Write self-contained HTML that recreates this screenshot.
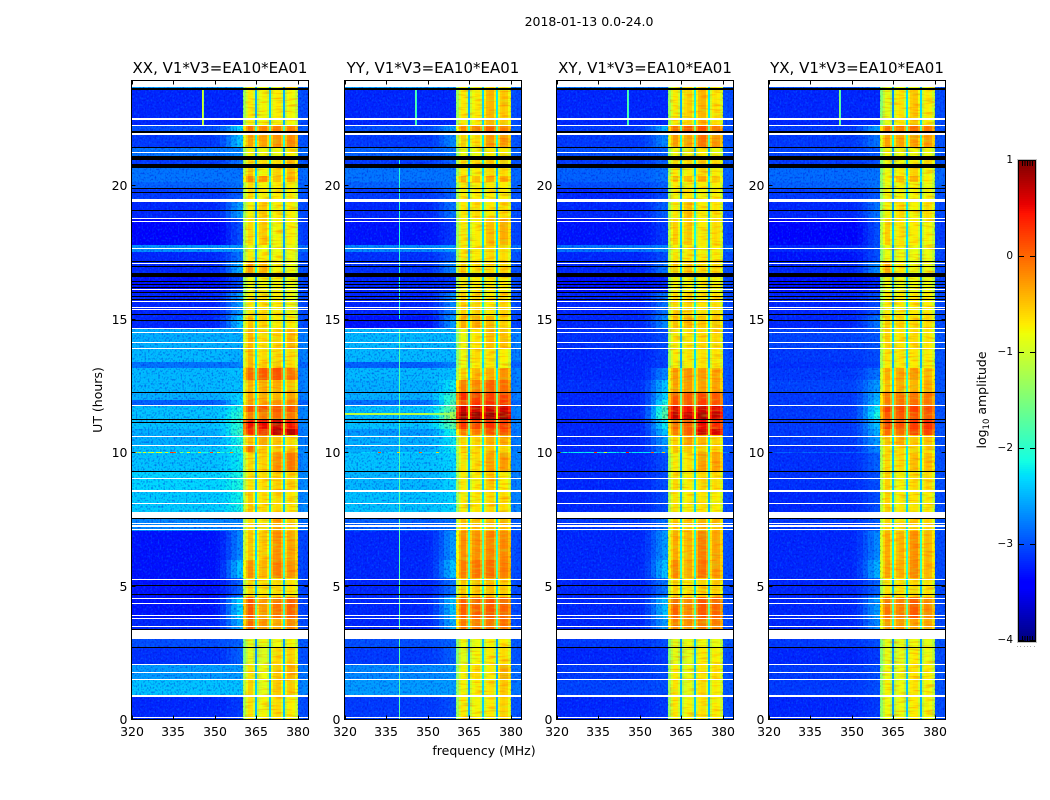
<!DOCTYPE html>
<html>
<head>
<meta charset="utf-8">
<title>2018-01-13 dynamic spectra</title>
<style>
html,body{margin:0;padding:0;background:#fff;width:1050px;height:800px;overflow:hidden}
svg{display:block}
text{font-family:"DejaVu Sans","Liberation Sans",sans-serif;fill:#000}
</style>
</head>
<body>
<svg id="figure" xmlns="http://www.w3.org/2000/svg" width="1050" height="800" viewBox="0 0 1050 800">
<defs>
<filter id="speckle-light" x="0" y="0" width="1" height="1" color-interpolation-filters="sRGB">
<feTurbulence type="fractalNoise" baseFrequency="0.55 0.45" numOctaves="1" seed="4"/>
<feColorMatrix type="matrix" values="0 0 0 0 0  0 0 0 0 0.62  0 0 0 0 1  3.4 0 0 0 -1.65"/>
</filter>
<filter id="speckle-dark" x="0" y="0" width="1" height="1" color-interpolation-filters="sRGB">
<feTurbulence type="fractalNoise" baseFrequency="0.58 0.48" numOctaves="1" seed="11"/>
<feColorMatrix type="matrix" values="0 0 0 0 0  0 0 0 0 0.5  0 0 0 0 0.9  3.4 0 0 0 -1.65"/>
</filter>
<filter id="stripe-warm" x="0" y="0" width="1" height="1" color-interpolation-filters="sRGB">
<feTurbulence type="fractalNoise" baseFrequency="0.08 0.55" numOctaves="1" seed="7"/>
<feColorMatrix type="matrix" values="0 0 0 0 1  0 0 0 0 0.3  0 0 0 0 0  3.4 0 0 0 -1.65"/>
</filter>
<filter id="stripe-cool" x="0" y="0" width="1" height="1" color-interpolation-filters="sRGB">
<feTurbulence type="fractalNoise" baseFrequency="0.1 0.5" numOctaves="1" seed="19"/>
<feColorMatrix type="matrix" values="0 0 0 0 0.65  0 0 0 0 1  0 0 0 0 0.15  3.4 0 0 0 -1.65"/>
</filter>
</defs>
<text x="589" y="26" font-size="12.5" text-anchor="middle">2018-01-13 0.0-24.0</text>
<text x="484" y="755" font-size="12.5" text-anchor="middle">frequency (MHz)</text>
<text x="102" y="400" font-size="12.5" text-anchor="middle" transform="rotate(-90 102 400)">UT (hours)</text>
<text x="986" y="400" font-size="12.5" text-anchor="middle" transform="rotate(-90 986 400)">log<tspan font-size="8.5" dy="3">10</tspan><tspan dy="-3"> amplitude</tspan></text>
</svg>
<script>
const panelTitles = ["XX, V1*V3=EA10*EA01","YY, V1*V3=EA10*EA01","XY, V1*V3=EA10*EA01","YX, V1*V3=EA10*EA01"];
const xTickLabels = [320,335,350,365,380];
const yTickLabels = [0,5,10,15,20];
const colorbarTicks = [1,0,-1,-2,-3,-4];

/* UT hours bounding each time block, top to bottom */
const bandEdgesUT = [23.91,23.61,22.26,22.00,21.40,20.95,20.65,20.35,20.13,19.90,19.49,18.74,17.77,17.50,17.13,16.72,16.00,15.10,14.62,13.90,13.38,13.16,12.71,12.26,11.96,11.77,11.51,11.24,10.87,10.64,10.27,10.01,9.97,9.26,8.58,7.76,7.05,5.96,5.28,4.57,3.79,3.34,2.66,2.06,1.46,0.86,0];

/* log10 amplitude per block: [background, roll-off, sub-band 1, 2, 3, 4] */
const levelsXX = [
[-2.4,-2.4,-.7,-.8,-.8,-.6],[-3.0,-3.0,-.7,-.75,-.7,-.75],[-2.8,-2.1,-.05,-.15,-.1,-.1],[-2.9,-2.2,-.3,-.3,-.2,-.15],
[-2.6,-2.5,-.75,-.8,-.8,-.7],[-2.9,-2.6,-.6,-.6,-.6,-.4],[-2.6,-2.6,-.5,-.75,-.55,-.45],[-2.6,-2.6,-.15,-.25,-.45,-.35],
[-2.7,-2.6,-.6,-.75,-.7,-.7],[-2.9,-2.7,-.6,-.7,-.7,-.7],[-3.0,-2.4,-.75,-.5,-.7,-.7],[-3.2,-2.8,-.6,-.5,-.75,-.7],
[-2.45,-2.4,-.8,-.8,-.8,-.8],[-3.0,-2.6,-.7,-.7,-.75,-.8],[-3.0,-2.3,-.25,-.4,-.75,-.8],[-3.1,-2.8,-.8,-.75,-.75,-.8],
[-3.0,-2.4,-.7,-.6,-.7,-.8],[-3.0,-2.2,-.45,-.55,-.7,-.7],[-2.3,-2.3,-.4,-.6,-.55,-.4],[-2.25,-2.3,-.4,-.6,-.6,-.6],
[-2.6,-2.5,-.4,-.5,-.5,-.6],[-2.25,-2.2,0,.1,.15,-.05],[-2.25,-2.2,-.4,-.35,-.35,-.45],[-2.3,-2.1,-.3,-.35,-.4,-.3],
[-2.7,-2.1,-.25,-.3,-.2,-.15],[-2.2,-1.9,.15,.15,.1,.15],[-2.2,-1.8,-.1,-.1,0,-.05],[-2.2,-1.8,.5,.55,.7,.5],
[-2.3,-1.7,.35,.35,.8,.8],[-2.3,-1.9,-.45,-.3,-.45,-.6],[-2.2,-1.9,0,-.5,-.5,-.5],[-1.9,-1.8,-.4,-.4,-.3,-.3],
[-2.2,-2.0,-.6,-.55,-.2,-.05],[-2.1,-1.9,-.65,-.6,-.55,-.55],[-2.15,-1.95,-.5,-.6,-.6,-.65],[-2.5,-2.5,-.6,-.65,-.3,-.5],
[-3.1,-2.5,-.5,-.5,-.2,-.3],[-3.1,-2.2,-.2,-.4,-.1,-.2],[-3.1,-2.7,-.6,-.65,-.6,-.65],[-3.1,-2.1,.1,-.25,-.05,.05],
[-3.0,-2.3,0,-.2,-.35,-.15],[-2.8,-2.7,-.85,-.8,-.8,-.75],[-2.95,-2.7,-.85,-.9,-.6,-.55],[-2.4,-2.4,-.65,-.8,-.5,-.35],
[-2.2,-2.2,-.55,-.85,-.5,-.5],[-3.0,-2.9,-.65,-.75,-.6,-.7]];
const levelsYY = [
[-2.4,-2.4,-.7,-.8,-.6,-.6],[-3.0,-3.0,-.7,-.7,-.4,-.5],[-2.8,-2.4,-.2,-.1,.05,-.1],[-2.9,-2.5,-.55,-.6,-.25,-.25],
[-2.7,-2.6,-.8,-.8,-.7,-.7],[-2.9,-2.7,-.6,-.6,-.5,-.5],[-2.6,-2.6,-.7,-.7,-.6,-.6],[-2.6,-2.6,-.35,-.45,-.35,-.35],
[-2.7,-2.6,-.7,-.7,-.7,-.7],[-2.9,-2.7,-.7,-.7,-.7,-.7],[-3.0,-2.6,-.7,-.6,-.7,-.6],[-3.1,-2.9,-.7,-.7,-.45,-.35],
[-2.5,-2.4,-.7,-.7,-.6,-.6],[-2.95,-2.7,-.7,-.7,-.6,-.6],[-2.95,-2.5,-.5,-.6,-.6,-.55],[-3.0,-2.9,-.7,-.7,-.7,-.7],
[-3.0,-2.5,-.55,-.55,-.7,-.55],[-3.1,-2.4,-.35,-.35,-.4,-.55],[-2.25,-2.25,-.8,-.65,-.45,-.45],[-2.25,-2.25,-.8,-.6,-.65,-.7],
[-2.7,-2.5,-.8,-.7,-.7,-.75],[-2.25,-2.2,-.55,-.4,-.35,-.2],[-2.3,-2.0,-.1,-.15,.05,0],[-2.3,-1.7,.35,.25,.25,.25],
[-2.6,-1.6,.2,.3,.35,.3],[-2.2,-1.4,.7,.7,.7,.7],[-2.25,-1.0,.9,.9,.9,.9],[-2.2,-1.5,.3,.2,.35,.3],
[-2.4,-1.9,-.1,-.1,.15,.15],[-2.3,-2.0,-.6,-.55,-.35,-.35],[-2.3,-2.0,-.6,-.6,-.5,-.55],[-2.1,-2.0,-.4,-.5,-.4,-.4],
[-2.2,-2.1,-.65,-.6,-.3,-.25],[-2.25,-2.1,-.7,-.7,-.5,-.7],[-2.2,-2.1,-.7,-.65,-.6,-.6],[-2.7,-2.6,-.45,-.45,-.45,-.4],
[-3.0,-2.4,-.2,-.2,-.15,-.15],[-3.0,-2.2,-.1,-.05,0,-.1],[-3.0,-2.6,-.5,-.5,-.45,-.5],[-3.0,-2.2,.05,.05,.1,.05],
[-3.0,-2.3,-.1,-.1,-.05,-.05],[-2.8,-2.7,-.8,-.8,-.75,-.7],[-2.9,-2.7,-.85,-.75,-.7,-.6],[-2.5,-2.45,-.75,-.6,-.7,-.35],
[-2.4,-2.4,-.75,-.7,-.65,-.5],[-2.9,-2.8,-.7,-.75,-.7,-.55]];
const levelsXY = [
[-2.6,-2.6,-.8,-.6,-.5,-.7],[-3.0,-3.0,-.7,-.55,-.4,-.65],[-2.9,-2.3,0,.1,.15,-.05],[-2.9,-2.5,-.25,-.3,-.05,-.2],
[-2.8,-2.7,-.8,-.8,-.7,-.8],[-2.9,-2.7,-.6,-.6,-.5,-.6],[-2.7,-2.6,-.7,-.7,-.6,-.7],[-2.7,-2.6,-.45,-.45,-.35,-.5],
[-2.8,-2.7,-.7,-.7,-.7,-.7],[-3.0,-2.8,-.75,-.65,-.75,-.7],[-3.0,-2.7,-.7,-.45,-.7,-.65],[-3.1,-2.9,-.55,-.5,-.7,-.6],
[-2.6,-2.5,-.75,-.7,-.75,-.7],[-3.0,-2.8,-.65,-.65,-.7,-.7],[-3.0,-2.6,-.5,-.5,-.6,-.6],[-3.1,-3.0,-.75,-.75,-.75,-.75],
[-3.0,-2.6,-.6,-.55,-.65,-.6],[-3.0,-2.5,-.45,-.4,-.5,-.5],[-2.95,-2.8,-.65,-.65,-.6,-.6],[-3.0,-2.85,-.7,-.65,-.65,-.65],
[-3.0,-2.85,-.75,-.7,-.65,-.7],[-3.0,-2.5,-.25,-.2,-.25,-.3],[-2.95,-2.2,-.3,-.25,-.3,-.3],[-3.0,-2.1,.1,.1,.2,.1],
[-3.0,-1.9,.15,.1,.25,.15],[-3.0,-1.6,.6,.5,.7,.6],[-3.0,-1.5,.75,.7,.85,.75],[-3.0,-2.0,0,.1,.55,.4],
[-3.0,-2.2,-.1,.1,.7,.65],[-3.0,-2.4,-.55,-.3,-.4,-.55],[-3.0,-2.5,-.5,-.5,-.55,-.55],[-2.0,-2.3,-.5,-.5,-.3,-.3],
[-3.0,-2.8,-.7,-.65,-.3,-.3],[-3.0,-2.8,-.6,-.7,-.6,-.6],[-3.0,-2.8,-.65,-.7,-.65,-.7],[-2.9,-2.6,-.5,-.5,-.4,-.45],
[-3.0,-2.4,-.35,-.4,-.1,-.3],[-3.0,-2.2,-.15,-.35,-.05,-.25],[-3.0,-2.6,-.55,-.65,-.55,-.55],[-3.0,-2.2,.05,-.15,.1,.05],
[-3.0,-2.4,-.1,-.2,-.1,-.1],[-2.9,-2.8,-.85,-.8,-.8,-.8],[-3.0,-2.9,-.85,-.85,-.7,-.7],[-2.9,-2.8,-.7,-.8,-.65,-.6],
[-2.85,-2.8,-.65,-.85,-.6,-.7],[-3.0,-2.9,-.7,-.75,-.65,-.7]];
const levelsYX = [
[-2.8,-2.6,-.85,-.8,-.8,-.8],[-3.0,-3.0,-.85,-.65,-.5,-.7],[-2.9,-2.4,-.05,-.1,0,-.05],[-2.9,-2.6,-.3,-.3,-.3,-.25],
[-2.85,-2.75,-.8,-.8,-.8,-.8],[-2.9,-2.8,-.8,-.8,-.7,-.55],[-2.65,-2.6,-.8,-.7,-.55,-.75],[-2.65,-2.6,-.75,-.45,-.4,-.7],
[-2.7,-2.6,-.85,-.75,-.75,-.8],[-2.9,-2.75,-.75,-.75,-.75,-.75],[-3.0,-2.6,-.75,-.6,-.75,-.6],[-3.2,-2.8,-.55,-.65,-.7,-.75],
[-3.0,-2.8,-.8,-.8,-.8,-.8],[-3.1,-2.8,-.8,-.8,-.8,-.8],[-3.0,-2.5,-.35,-.7,-.8,-.8],[-3.1,-3.0,-.8,-.8,-.8,-.8],
[-3.0,-2.8,-.7,-.7,-.7,-.7],[-3.0,-2.6,-.55,-.55,-.6,-.6],[-2.85,-2.75,-.55,-.65,-.6,-.65],[-2.9,-2.8,-.65,-.65,-.65,-.7],
[-2.95,-2.85,-.7,-.7,-.7,-.7],[-2.9,-2.6,-.35,-.3,-.25,-.4],[-2.85,-2.4,-.45,-.35,-.4,-.35],[-2.9,-2.3,-.1,-.05,-.05,-.05],
[-2.9,-2.2,-.1,-.05,0,-.05],[-2.9,-2.0,.25,.2,.25,.2],[-2.9,-1.9,.1,.1,.15,.1],[-2.9,-2.2,.25,.15,.3,.35],
[-2.9,-2.3,0,0,.2,.25],[-2.9,-2.4,-.45,-.35,-.5,-.45],[-2.95,-2.5,-.6,-.6,-.55,-.6],[-2.7,-2.6,-.6,-.6,-.6,-.6],
[-2.95,-2.7,-.6,-.6,-.45,-.45],[-2.95,-2.8,-.55,-.75,-.6,-.6],[-3.0,-2.8,-.55,-.7,-.65,-.7],[-2.9,-2.7,-.55,-.65,-.5,-.55],
[-3.0,-2.5,-.35,-.4,-.2,-.4],[-3.0,-2.3,-.3,-.35,-.15,-.4],[-3.0,-2.7,-.65,-.65,-.6,-.65],[-3.0,-2.4,-.05,-.1,.1,-.15],
[-3.0,-2.5,-.25,-.25,-.3,-.3],[-2.9,-2.8,-.85,-.85,-.8,-.85],[-3.0,-2.9,-.85,-.85,-.7,-.8],[-2.9,-2.8,-.8,-.8,-.65,-.7],
[-2.9,-2.8,-.75,-.8,-.65,-.75],[-3.0,-2.9,-.8,-.8,-.7,-.75]];
const panelLevels = [levelsXX,levelsYY,levelsXY,levelsYX];
const backgroundCalibration = [-0.2];

/* frequency channels: [start MHz, end MHz, kind, amount]. kind b=background, r=roll-off blend, 2..5=sub-band index, p=beyond band */
const freqChannels = [
[320,350,'b',0],[350,352,'r',.05],[352,354,'r',.2],[354,356,'r',.45],[356,358,'r',.75],[358,360.4,'r',1],
[360.4,361.4,2,-.6],[361.4,362,2,-.25],[362,363,2,0],[363,364,2,0],[364,364.6,2,-.3],[364.6,365.4,2,-1.8],
[365.4,366,3,-.35],[366,367,3,-.08],[367,368,3,0],[368,369,3,0],[369,369.7,3,-.3],[369.7,370.4,3,-1.6],
[370.4,371,4,-.35],[371,372,4,-.05],[372,373,4,0],[373,374,4,0],[374,374.6,4,-.3],[374.6,375.3,4,-1.8],
[375.3,376,5,-.35],[376,377,5,-.05],[377,378,5,0],[378,379,5,-.05],[379,380,5,-.3],
[380,382,'p',.7],[382,384,'p',.6]];
const beyondBandFloor = [-2.9];
const subBandRanges = [[361,364.6],[365.4,369.7],[370.4,374.6],[375.3,380]];

/* flagged time ranges [start UT, end UT] */
const whiteFlags = [[23.69,23.91],[22.47,22.53],[22.24,22.28],[21.91,21.97],[21.21,21.25],[19.38,19.49],[18.72,18.76],[18.64,18.68],[17.62,17.65],[17.04,17.08],[16.08,16.12],[15.63,15.67],[15.40,15.44],[15.33,15.37],[14.62,14.65],[14.47,14.50],[14.09,14.13],[13.87,13.90],[11.73,11.77],[10.57,10.61],[10.23,10.27],[9.00,9.03],[8.51,8.60],[8.04,8.08],[7.53,7.74],[7.32,7.36],[7.21,7.27],[7.08,7.12],[5.20,5.24],[4.50,4.54],[4.31,4.35],[3.86,3.90],[3.75,3.79],[3.45,3.49],[3.02,3.34],[2.02,2.06],[1.72,1.76],[1.46,1.50],[0.84,0.90],[0.03,0.07]];
const blackFlags = [[23.59,23.65],[21.97,22.04],[21.40,21.44],[20.96,21.10],[20.65,20.80],[19.88,19.92],[19.71,19.75],[19.05,19.08],[17.15,17.18],[16.94,16.97],[16.54,16.70],[16.39,16.43],[16.27,16.30],[16.15,16.19],[15.98,16.02],[15.83,15.87],[15.70,15.74],[15.14,15.18],[14.92,14.95],[12.22,12.26],[11.21,11.24],[11.09,11.13],[9.26,9.31],[7.50,7.53],[4.98,5.02],[4.65,4.69],[3.34,3.37],[2.66,2.71]];

/* narrow interference: [panel, MHz, start UT, end UT, level] */
const verticalRfi = [[0,345.5,22.26,23.6,-.9],[0,345.9,22.26,23.6,-1.3],[1,345.5,22.26,23.6,-1.7],[1,345.9,22.26,23.6,-2.0],[2,345.5,22.26,23.6,-1.7],[2,345.9,22.26,23.6,-2.0],[3,345.5,22.26,23.6,-1.4],[3,345.9,22.26,23.6,-1.8],[1,339.6,0,14.6,-1.75],[1,339.6,15.0,21.0,-2.0]];
/* horizontal interference: [panel, start MHz, end MHz, UT, level] */
const horizontalRfi = [[1,320,350,11.47,-1.1],[1,350,359,11.47,-1.3]];
/* single-channel spikes near 10 UT: [panel, MHz, level] */
const rfiSpikes = [[0,321,-.6],[0,322.5,-1.1],[0,324,-.9],[0,326,-1.2],[0,327,-.9],[0,329,-.9],[0,330,-.8],[0,332,-1],[0,334,.3],[0,335,.1],[0,337.5,-1.5],[0,340,-.8],[0,344,-.6],[0,348.5,.2],[0,351,-1],[0,355.7,-.2],[1,332,.1],[1,339,-.6],[1,347,0],[1,353,-.6],[2,320.5,-.9],[2,333.5,.3],[2,337,-.9],[2,345,.5],[2,354,.1],[2,358,-.5]];

const NS = "http://www.w3.org/2000/svg";
const svg = document.getElementById("figure");
const panelLeft = [131.5,344.5,556.5,768.5];
const pxPerMHz = 2.77, pxPerHour = 26.68, yZero = 719, frameTop = 80.5, frameBottom = 719.5, frameWidth = 177;
const fx = (panel,mhz) => panelLeft[panel] + (mhz-320)*pxPerMHz;
const fy = h => yZero - h*pxPerHour;

function jetChannel(t,pts){
  for(let i=1;i<pts.length;i++){
    if(t<=pts[i][0]){
      const a=pts[i-1],b=pts[i];
      return a[1]+(b[1]-a[1])*(t-a[0])/(b[0]-a[0]);
    }
  }
  return pts[pts.length-1][1];
}
function jet(v){
  const t=Math.min(1,Math.max(0,(v+4)/5));
  const r=jetChannel(t,[[0,0],[.35,0],[.66,1],[.89,1],[1,.5]]);
  const g=jetChannel(t,[[0,0],[.125,0],[.375,1],[.64,1],[.91,0],[1,0]]);
  const b=jetChannel(t,[[0,.5],[.11,1],[.34,1],[.65,0],[1,0]]);
  return "rgb("+Math.round(r*255)+","+Math.round(g*255)+","+Math.round(b*255)+")";
}
function make(tag,parent,attrs){
  const el=document.createElementNS(NS,tag);
  for(const k in attrs) el.setAttribute(k,attrs[k]);
  parent.appendChild(el);
  return el;
}
function cellValue(row,ch){
  const kind=ch[2], amt=ch[3], cal=backgroundCalibration[0];
  if(kind==='b') return row[0]+cal;
  if(kind==='r') return row[0]+(row[1]-row[0])*amt+cal;
  if(kind==='p') return row[0]+cal+(beyondBandFloor[0]-row[0]-cal)*amt;
  return row[kind]+amt;
}

panelTitles.forEach((title,p)=>{
  const group=make('g',svg,{});
  
  
  const clipId='clip'+p;
  const defs=make('clipPath',group,{id:clipId});
  make('rect',defs,{x:panelLeft[p],y:frameTop,width:frameWidth,height:frameBottom-frameTop});

  const heat=make('g',group,{'clip-path':'url(#'+clipId+')','shape-rendering':'crispEdges'});
  
  

  const rows=panelLevels[p];
  rows.forEach((row,r)=>{
    const y0=Math.round(fy(bandEdgesUT[r])), y1=Math.round(fy(bandEdgesUT[r+1]));
    freqChannels.forEach(ch=>{
      const x0=Math.round(fx(p,ch[0])), x1=Math.round(fx(p,ch[1]));
      const cell=make('rect',heat,{x:x0,y:y0,width:Math.max(1,x1-x0),height:Math.max(1,y1-y0),fill:jet(cellValue(row,ch))});
      
      
    });
  });

  [[320,360.4],[380,384]].forEach(span=>{
    const bgX=fx(p,span[0]), bgW=fx(p,span[1])-bgX;
    const noiseA=make('rect',heat,{x:bgX,y:frameTop,width:bgW,height:frameBottom-frameTop,filter:'url(#speckle-light)',opacity:.3});
    
    
    const noiseB=make('rect',heat,{x:bgX,y:frameTop,width:bgW,height:frameBottom-frameTop,filter:'url(#speckle-dark)',opacity:.85,style:'mix-blend-mode:multiply'});
    
    
  });
  subBandRanges.forEach(span=>{
    const sx=fx(p,span[0]), sw=fx(p,span[1])-sx;
    const warm=make('rect',heat,{x:sx,y:frameTop,width:sw,height:frameBottom-frameTop,filter:'url(#stripe-warm)',opacity:.4});
    
    
    const cool=make('rect',heat,{x:sx,y:frameTop,width:sw,height:frameBottom-frameTop,filter:'url(#stripe-cool)',opacity:.3});
    
    
  });

  verticalRfi.filter(d=>d[0]===p).forEach(d=>{
    const line=make('rect',heat,{x:Math.round(fx(p,d[1])),y:fy(d[3]),width:1,height:(d[3]-d[2])*pxPerHour,fill:jet(d[4])});
    
    
  });
  horizontalRfi.filter(d=>d[0]===p).forEach(d=>{
    const x0=Math.round(fx(p,d[1]));
    const line=make('rect',heat,{x:x0,y:Math.round(fy(d[3])),width:Math.round(fx(p,d[2]))-x0,height:2,fill:jet(d[4])});
    
    
  });
  rfiSpikes.filter(d=>d[0]===p).forEach(d=>{
    const dot=make('rect',heat,{x:Math.round(fx(p,d[1])),y:Math.round(fy(bandEdgesUT[31])),width:3,height:1,fill:jet(d[2])});
    
    
  });

  whiteFlags.forEach(f=>{
    const top=Math.round(fy(f[1])), h=Math.max(1,Math.round(fy(f[0])-fy(f[1])));
    const bar=make('rect',heat,{x:panelLeft[p],y:top,width:frameWidth,height:h,fill:'#fff'});
    
    
  });
  blackFlags.forEach(f=>{
    const top=Math.round(fy(f[1])), h=Math.max(1,Math.round(fy(f[0])-fy(f[1])));
    const bar=make('rect',heat,{x:panelLeft[p],y:top,width:frameWidth,height:h,fill:'#000'});
    
    
  });

  const frame=make('rect',group,{x:panelLeft[p],y:frameTop,width:frameWidth,height:frameBottom-frameTop,fill:'none',stroke:'#000','stroke-width':1,'shape-rendering':'crispEdges'});
  
  

  const ttl=make('text',group,{x:panelLeft[p]+frameWidth/2,y:73,'font-size':15,'text-anchor':'middle'});
  ttl.textContent=title;
  
  

  xTickLabels.forEach(v=>{
    const x=Math.round(fx(p,v))+.5;
    const t1=make('line',group,{x1:x,x2:x,y1:frameBottom,y2:frameBottom-4,stroke:'#000','shape-rendering':'crispEdges'});
    
    
    const t2=make('line',group,{x1:x,x2:x,y1:frameTop,y2:frameTop+4,stroke:'#000','shape-rendering':'crispEdges'});
    
    
    const lab=make('text',group,{x:x-.5,y:736,'font-size':12.5,'text-anchor':'middle'});
    lab.textContent=v;
    
    
  });
  yTickLabels.forEach(v=>{
    const y=Math.round(fy(v))+.5;
    const t1=make('line',group,{x1:panelLeft[p],x2:panelLeft[p]+4,y1:y,y2:y,stroke:'#000','shape-rendering':'crispEdges'});
    
    
    const t2=make('line',group,{x1:panelLeft[p]+frameWidth,x2:panelLeft[p]+frameWidth-4,y1:y,y2:y,stroke:'#000','shape-rendering':'crispEdges'});
    
    
    const lab=make('text',group,{x:panelLeft[p]-4,y:y+4.5,'font-size':12.5,'text-anchor':'end'});
    lab.textContent=v;
    
    
  });
});

/* colorbar */
const cbLeft=1019, cbWidth=16, cbTop=161, cbHeight=480;
const cbY=v=>cbTop+(1-v)/5*cbHeight;
const cb=make('g',svg,{'shape-rendering':'crispEdges'});


for(let i=0;i<cbHeight;i+=2){
  const v=1-(i+1)/cbHeight*5;
  const seg=make('rect',cb,{x:cbLeft,y:cbTop+i,width:cbWidth,height:2,fill:jet(v)});
  
  
}
const cbHalo=make('rect',cb,{x:cbLeft-1.5,y:cbTop-1.5,width:cbWidth+3,height:cbHeight+3,fill:'none',stroke:'#c4c4c4'});


const cbFrame=make('rect',cb,{x:cbLeft-.5,y:cbTop-.5,width:cbWidth+1,height:cbHeight+1,fill:'none',stroke:'#000'});


colorbarTicks.forEach(v=>{
  const y=Math.round(cbY(v))-.5;
  const a=make('line',cb,{x1:cbLeft,x2:cbLeft+5,y1:y,y2:y,stroke:'#000'});
  
  
  const b=make('line',cb,{x1:cbLeft+cbWidth-5,x2:cbLeft+cbWidth,y1:y,y2:y,stroke:'#000'});
  
  
  const lab=make('text',svg,{x:1013,y:cbY(v)+2,'font-size':10.5,'text-anchor':'end'});
  lab.textContent=v<0?'\u2212'+Math.abs(v):String(v);
  
  
});
[3.5,6,8.5,11,13.5].forEach(dx=>{
  const top=make('line',cb,{x1:cbLeft+dx,x2:cbLeft+dx,y1:cbTop,y2:cbTop+5,stroke:'#000'});
  
  
  const bot=make('line',cb,{x1:cbLeft+dx,x2:cbLeft+dx,y1:cbTop+cbHeight-5,y2:cbTop+cbHeight,stroke:'#000'});
  
  
});
[1017,1020,1024,1027,1030,1034].forEach(x=>{
  const dot=make('rect',svg,{x:x,y:646,width:1,height:1,fill:'#aaa'});
  
  
});
</script>
</body>
</html>
